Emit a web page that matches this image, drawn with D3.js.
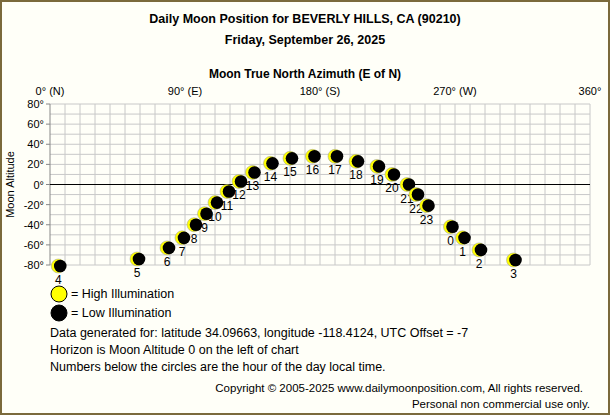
<!DOCTYPE html>
<html><head><meta charset="utf-8">
<script src="https://cdn.jsdelivr.net/npm/d3@7"></script>
<style>body{margin:0;background:#fff}svg text{font-family:"Liberation Sans",Arial,sans-serif}</style>
</head><body><div id="chart"></div>
<script>
// moon positions by hour (local time)
const hours = [4,5,6,7,8,9,10,11,12,13,14,15,16,17,18,19,20,21,22,23,0,1,2,3];
const azimuth = [5.5,58,78,88,96,103,110,118,126,135,147,160,175,190,204,218,228,238,244,251,267,275,286,309];
const altitude = [-81,-74,-63,-53,-40,-29,-18,-7,3,12,21,26,28,28,23,18,10,0,-10,-21,-42,-53,-65,-75];
const xTicks = [0,90,180,270,360];
const xTickLabels = ["0° (N)","90° (E)","180° (S)","270° (W)","360°"];
const yTicks = [80,60,40,20,0,-20,-40,-60,-80];

const W = 610, H = 415;
const svg = d3.select("#chart").append("svg").attr("width", W).attr("height", H);
svg.append("rect").attr("x",1).attr("y",1).attr("width",W-2).attr("height",H-2)
  .attr("fill","#fffff8").attr("stroke","#7b6a3c").attr("stroke-width",2);

const x = d3.scaleLinear().domain([0,360]).range([50,590]);
const y = d3.scaleLinear().domain([-80,80]).range([265,104]);

svg.append("text").attr("x",W/2).attr("y",23).attr("text-anchor","middle")
  .style("font-size","12.5px").style("font-weight","bold").text("Daily Moon Position for BEVERLY HILLS, CA (90210)");
svg.append("text").attr("x",W/2).attr("y",44).attr("text-anchor","middle")
  .style("font-size","12.5px").style("font-weight","bold").text("Friday, September 26, 2025");
svg.append("text").attr("x",W/2).attr("y",78).attr("text-anchor","middle")
  .style("font-size","12px").style("font-weight","bold").text("Moon True North Azimuth (E of N)");

// grid
const g = svg.append("g");
g.selectAll(".vg").data(d3.range(10,361,10)).join("line")
  .attr("x1",d=>x(d)).attr("x2",d=>x(d)).attr("y1",y(80)).attr("y2",y(-80))
  .attr("stroke","#c8c8c8");
g.selectAll(".hg").data(d3.range(-80,81,10)).join("line")
  .attr("x1",x(0)).attr("x2",x(360)).attr("y1",d=>y(d)).attr("y2",d=>y(d))
  .attr("stroke","#c8c8c8");
g.append("line").attr("x1",x(0)).attr("x2",x(0)).attr("y1",y(80)).attr("y2",y(-80)).attr("stroke","#888");
g.append("line").attr("x1",x(0)).attr("x2",x(360)).attr("y1",y(0)).attr("y2",y(0)).attr("stroke","#000");

svg.selectAll(".xt").data(xTicks).join("text")
  .attr("x",d=>x(d)).attr("y",95).attr("text-anchor","middle")
  .style("font-size","11px").text((d,i)=>xTickLabels[i]);
svg.selectAll(".yt").data(yTicks).join("text")
  .attr("x",44).attr("y",d=>y(d)+4).attr("text-anchor","end")
  .style("font-size","11px").text(d=>d+"°");
svg.selectAll(".ytk").data(yTicks).join("line")
  .attr("x1",46).attr("x2",50).attr("y1",d=>y(d)).attr("y2",d=>y(d)).attr("stroke","#888");
svg.append("text").attr("transform",`translate(14,${y(0)}) rotate(-90)`).attr("text-anchor","middle")
  .style("font-size","11px").text("Moon Altitude");

// moons
const pts = hours.map((h,i)=>({h, az:azimuth[i], alt:altitude[i]}));
const m = svg.selectAll(".moon").data(pts).join("g")
  .attr("transform",d=>`translate(${x(d.az)},${y(d.alt)})`);
m.append("circle").attr("r",7).attr("fill","#ffff00").attr("stroke","#999").attr("stroke-width",0.5);
m.append("circle").attr("cx",2).attr("r",6.3).attr("fill","#000");
m.append("text").attr("y",18).attr("text-anchor","middle").style("font-size","12px").text(d=>d.h);

// legend
const leg = [{t:"= High Illumination", c:"#ffff00", y:294},{t:"= Low Illumination", c:"#000", y:313}];
leg.forEach(l=>{
  svg.append("circle").attr("cx",59).attr("cy",l.y).attr("r",8).attr("fill",l.c).attr("stroke","#000");
  svg.append("text").attr("x",71).attr("y",l.y+4).style("font-size","12.5px").text(l.t);
});
const notes = ["Data generated for: latitude 34.09663, longitude -118.4124, UTC Offset = -7",
  "Horizon is Moon Altitude 0 on the left of chart",
  "Numbers below the circles are the hour of the day local time."];
notes.forEach((t,i)=>svg.append("text").attr("x",50).attr("y",337+i*17).style("font-size","12.5px").text(t));
svg.append("text").attr("x",583).attr("y",392).attr("text-anchor","end").style("font-size","11.5px")
  .text("Copyright © 2005-2025 www.dailymoonposition.com, All rights reserved.");
svg.append("text").attr("x",590).attr("y",408).attr("text-anchor","end").style("font-size","11.5px")
  .text("Personal non commercial use only.");
</script></body></html>
